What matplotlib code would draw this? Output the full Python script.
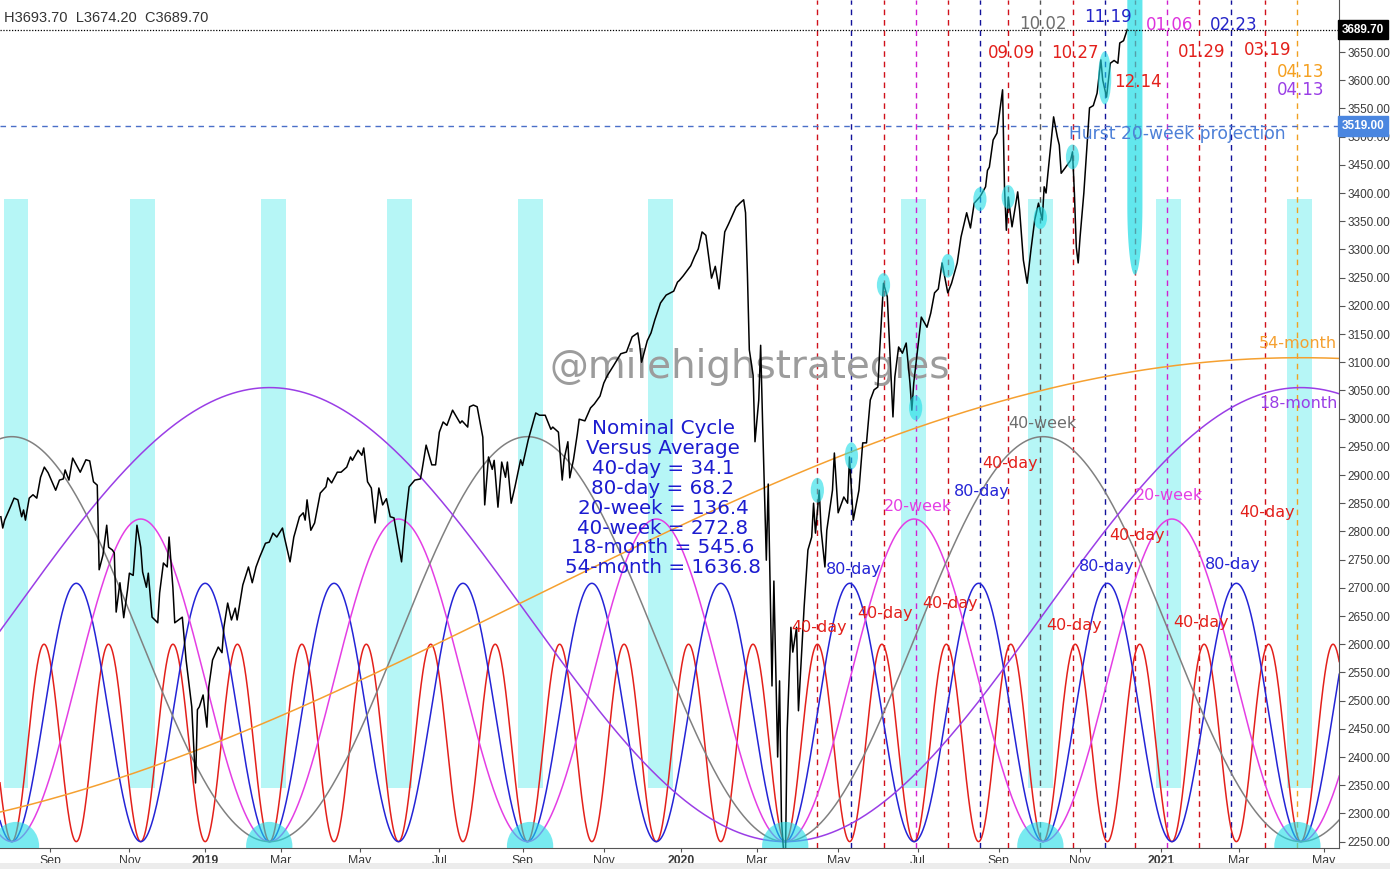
import numpy as np
import pandas as pd
import matplotlib
matplotlib.use('Agg')
import matplotlib.pyplot as plt
from matplotlib.patches import Rectangle, Ellipse, Polygon

# x axis counts trading sessions (bar index), session 0 = 2018-09-04
START = '2018-09-04'
HOLIDAYS = ['2018-09-03', '2018-11-22', '2018-12-05', '2018-12-25',
            '2019-01-01', '2019-01-21', '2019-02-18', '2019-04-19', '2019-05-27',
            '2019-07-04', '2019-09-02', '2019-11-28', '2019-12-25',
            '2020-01-01', '2020-01-20', '2020-02-17', '2020-04-10', '2020-05-25',
            '2020-07-03', '2020-09-07', '2020-11-26']

# daily close (session, price)
price_bar = [-26, -25, -24, -21, -19, -17, -15, -14, -13, -11,
             -9, -7, -5, -3, -1, 3, 5, 7, 8, 10,
             12, 16, 19, 21, 23, 25, 26, 28, 30, 31,
             33, 34, 35, 37, 39, 41, 42, 44, 46, 48,
             49, 51, 52, 54, 57, 58, 60, 62, 63, 65,
             66, 70, 72, 75, 77, 78, 79, 81, 83, 84,
             86, 89, 91, 92, 94, 96, 98, 99, 102, 105,
             107, 109, 111, 114, 116, 118, 120, 123, 124, 127,
             129, 132, 134, 135, 136, 138, 140, 143, 146, 147,
             149, 152, 154, 157, 159, 160, 163, 165, 166, 168,
             170, 172, 174, 176, 178, 180, 182, 184, 186, 188,
             190, 193, 196, 197, 199, 202, 204, 206, 208, 210,
             213, 217, 218, 221, 222, 224, 226, 229, 230, 232,
             234, 235, 237, 239, 241, 242, 244, 246, 249, 250,
             253, 257, 259, 262, 265, 266, 269, 271, 272, 274,
             275, 277, 279, 280, 283, 286, 288, 291, 293, 295,
             298, 302, 305, 308, 311, 312, 313, 316, 318, 320,
             323, 326, 330, 332, 333, 335, 339, 341, 343, 345,
             347, 350, 352, 354, 357, 359, 361, 363, 365, 367,
             368, 369, 370, 372, 373, 375, 376, 377, 379, 380,
             382, 383, 385, 386, 387, 389, 390, 392, 393, 395,
             396, 399, 401, 403, 404, 405, 407, 408, 410, 411,
             414, 415, 417, 420, 422, 423, 425, 428, 430, 432,
             434, 436, 438, 439, 441, 443, 446, 447, 449, 451,
             453, 455, 456, 457, 459, 461, 464, 466, 468, 470,
             472, 475, 477, 480, 482, 485, 487, 489, 492, 495,
             496, 497, 499, 501, 504, 505, 506, 507, 509, 512,
             513, 515, 517, 519, 521, 523, 525, 526, 527, 528,
             531, 533, 534, 535, 537, 540, 541, 542, 543, 544,
             545, 547, 549, 550, 552, 554, 556, 557, 559, 561,
             563, 565, 566, 568, 570]
price_close = [2826, 2806, 2820, 2843, 2859, 2856, 2826, 2838, 2820, 2859,
               2865, 2859, 2896, 2914, 2904, 2873, 2891, 2893, 2909, 2891,
               2930, 2905, 2927, 2925, 2888, 2882, 2732, 2758, 2811, 2772,
               2767, 2762, 2657, 2709, 2647, 2696, 2726, 2722, 2811, 2772,
               2728, 2701, 2726, 2648, 2638, 2691, 2744, 2737, 2790, 2701,
               2638, 2648, 2572, 2489, 2354, 2484, 2489, 2510, 2453, 2524,
               2572, 2595, 2585, 2630, 2673, 2643, 2664, 2643, 2705, 2737,
               2709, 2737, 2755, 2779, 2781, 2797, 2790, 2806, 2790, 2746,
               2790, 2826, 2833, 2820, 2856, 2802, 2815, 2868, 2879, 2895,
               2886, 2905, 2905, 2914, 2932, 2926, 2944, 2935, 2948, 2888,
               2877, 2815, 2877, 2847, 2858, 2826, 2824, 2785, 2746, 2820,
               2879, 2891, 2893, 2912, 2953, 2918, 2918, 2976, 2994, 2988,
               3015, 2992, 2996, 2985, 3021, 3024, 3021, 2967, 2847, 2932,
               2910, 2926, 2843, 2923, 2896, 2923, 2850, 2879, 2927, 2917,
               2962, 3010, 3006, 3006, 2981, 2985, 2976, 2891, 2928, 2959,
               2895, 2928, 2973, 2999, 2996, 3019, 3026, 3040, 3063, 3077,
               3093, 3115, 3118, 3145, 3152, 3130, 3100, 3138, 3152, 3175,
               3205, 3219, 3226, 3242, 3245, 3253, 3271, 3287, 3301, 3331,
               3325, 3249, 3270, 3230, 3331, 3345, 3360, 3375, 3382, 3388,
               3365, 3256, 3122, 3077, 2959, 3033, 3130, 2996, 2749, 2884,
               2526, 2712, 2400, 2535, 2288, 2190, 2445, 2630, 2586, 2630,
               2482, 2666, 2767, 2790, 2850, 2797, 2873, 2802, 2737, 2802,
               2873, 2939, 2833, 2861, 2850, 2932, 2820, 2873, 2957, 2957,
               3033, 3051, 3056, 3122, 3240, 3216, 3003, 3074, 3127, 3116,
               3134, 3063, 3015, 3063, 3122, 3180, 3162, 3187, 3223, 3230,
               3276, 3223, 3240, 3276, 3322, 3365, 3338, 3382, 3393, 3411,
               3440, 3446, 3494, 3506, 3583, 3411, 3334, 3393, 3340, 3402,
               3370, 3281, 3240, 3299, 3352, 3382, 3352, 3411, 3400, 3435,
               3535, 3499, 3485, 3435, 3444, 3458, 3473, 3400, 3304, 3276,
               3322, 3400, 3499, 3551, 3555, 3577, 3636, 3600, 3570, 3630,
               3635, 3630, 3666, 3670, 3690]

# Hurst nominal cycles (length in bars, peak price), all trough at 2250
cycle_names = ['40-day', '80-day', '20-week', '40-week', '18-month', '54-month']
cycle_len = [34.1, 68.2, 136.4, 272.8, 545.6, 1636.8]
cycle_peak = [2600, 2708, 2822, 2968, 3055, 3108]
cycle_shift = [0, 0, 0, 0, 0, -545.6]
cycle_colors = ['#e3201b', '#2424d6', '#e43ee4', '#808080', '#9a3ee6', '#f5a030']
cycle_trough_date = '2020-03-23'
cycle_base = 2250

# projected cycle dates (dashed verticals)
vline_dates = ['2020-04-16', '2020-05-12', '2020-06-05', '2020-06-30', '2020-07-24',
               '2020-08-18', '2020-09-09', '2020-10-02', '2020-10-27', '2020-11-19',
               '2020-12-14', '2021-01-06', '2021-01-29', '2021-02-23', '2021-03-19',
               '2021-04-13']
vline_cycle = ['40-day', '80-day', '40-day', '20-week', '40-day',
               '80-day', '40-day', '40-week', '40-day', '80-day',
               '40-day', '20-week', '40-day', '80-day', '40-day',
               '54-month']
vline_label_y = [2630, 2732, 2654, 2845, 2673, 2870, 2921, 2992, 2634, 2737,
                 2792, 2863, 2638, 2742, 2833, None]

# dates written at the top
top_dates = ['2020-09-09', '2020-10-02', '2020-10-27', '2020-11-19', '2020-12-14',
             '2021-01-06', '2021-01-29', '2021-02-23', '2021-03-19', '2021-04-13',
             '2021-04-13']
top_text = ['09.09', '10.02', '10.27', '11.19', '12.14', '01.06', '01.29', '02.23',
            '03.19', '04.13', '04.13']
top_y = [3648, 3700, 3648, 3712, 3597, 3698, 3650, 3698, 3654, 3615, 3583]
top_colors = ['#e3201b', '#6e6e6e', '#e3201b', '#2424c8', '#e3201b', '#dd33dd',
              '#e3201b', '#2424c8', '#e3201b', '#f5a020', '#9a3ee6']

# cyan highlight bars (80-day troughs)
band_dates = ['2018-08-08', '2018-11-12', '2019-02-25', '2019-05-31', '2019-09-09',
              '2019-12-16', '2020-06-29', '2020-10-02', '2021-01-07', '2021-04-14']
band_low, band_high = 2345, 3390

# big circles on the 20-week troughs
circle_dates = ['2018-08-08', '2019-02-21', '2019-09-09', '2020-03-23', '2020-10-02',
                '2021-04-13']

# small ellipses on price turns
turn_dates = ['2020-04-16', '2020-05-12', '2020-06-05', '2020-06-30', '2020-07-24',
              '2020-08-18', '2020-09-09', '2020-10-02', '2020-10-27', '2020-11-19']
turn_price = [2873, 2934, 3237, 3019, 3271, 3389, 3393, 3356, 3464, 3604]
turn_height = [44, 48, 42, 44, 42, 42, 42, 40, 44, 94]

nominal_lines = ['Nominal Cycle', 'Versus Average', '40-day = 34.1', '80-day = 68.2',
                 '20-week = 136.4', '40-week = 272.8', '18-month = 545.6',
                 '54-month = 1636.8']

last_price = 3689.70
projection_price = 3519.00


def session(d):
    return float(np.busday_count(START, d, holidays=HOLIDAYS))


fig = plt.figure(figsize=(13.9, 8.69), dpi=100)
fig.patch.set_facecolor('white')
ax = fig.add_axes([0, 21 / 869, 1339 / 1390, 848 / 869])
ax.set_xlim(-26.46, 682.0)
ax.set_ylim(2238.7, 3742.2)

# cyan bands
for d in band_dates:
    c = session(d)
    ax.add_patch(Rectangle((c - 6.6, band_low), 13.2, band_high - band_low,
                           fc='#b6f6f6', ec='none', zorder=0.5))

# dashed verticals
name_color = dict(zip(cycle_names, cycle_colors))
vcolors = {'40-day': '#d0101a', '80-day': '#12129a', '20-week': '#d020d0',
           '40-week': '#555555', '54-month': '#f0a020'}
for d, cyc in zip(vline_dates, vline_cycle):
    ax.axvline(session(d), color=vcolors[cyc], lw=1.0, ls=(0, (4, 3.5)), zorder=1.5)

# cycle curves
xs = np.linspace(-27, 683, 4000)
t0 = session(cycle_trough_date)
for per, pk, sh, col in zip(cycle_len, cycle_peak, cycle_shift, cycle_colors):
    yy = cycle_base + (pk - cycle_base) * (1 - np.cos(2 * np.pi * (xs - t0 - sh) / per)) / 2
    ax.plot(xs, yy, color=col, lw=1.1, zorder=2)

# watermark
ax.text(370.4, 3092, '@milehighstrategies', fontsize=28, color='#9c9c9c',
        ha='center', va='center', zorder=1.8)

# price
ax.plot(price_bar, price_close, color='black', lw=1.1, zorder=3)

# highlight circles / ellipses
for d in circle_dates:
    ax.add_patch(Ellipse((session(d), 2242), 24.5, 86, fc='#1fdde6', ec='none',
                         alpha=0.6, zorder=4))
for d, p, h in zip(turn_dates, turn_price, turn_height):
    ax.add_patch(Ellipse((session(d), p), 7.0, h, fc='#1fdde6', ec='none',
                         alpha=0.6, zorder=4))

# Hurst 20-week projection shape
c = session('2020-12-14')
th = np.linspace(np.pi, 2 * np.pi, 40)
pts = [(c - 4.0, 3800)] + list(zip(c + 4.0 * np.cos(th), 3377 + 122 * np.sin(th))) + [(c + 4.0, 3800)]
ax.add_patch(Polygon(pts, closed=True, fc='#1fdde6', ec='none', alpha=0.7, zorder=4))

# horizontal lines
ax.axhline(last_price, color='black', lw=0.9, ls=(0, (1, 1.3)), zorder=5)
ax.axhline(projection_price, color='#4a6fc8', lw=1.0, ls=(0, (4, 3.5)), zorder=1.5)
ax.text(596.3, 3504.6, 'Hurst 20-week projection', fontsize=12.3, color='#4d80d8',
        ha='center', va='center', zorder=6)

# cycle labels on the verticals
for d, cyc, ly in zip(vline_dates, vline_cycle, vline_label_y):
    if ly is None:
        continue
    lc = name_color[cyc]
    if cyc == '40-week':
        lc = '#6e6e6e'
    ax.text(session(d) + 1.0, ly, cyc, fontsize=11.5, color=lc, ha='center',
            va='center', zorder=6)
ax.text(session('2021-04-13') + 0.3, 3134, '54-month', fontsize=11.5, color='#f5a030',
        ha='center', va='center', zorder=6)
ax.text(session('2021-04-13') + 0.3, 3026, '18-month', fontsize=11.5, color='#9a3ee6',
        ha='center', va='center', zorder=6)

# top date labels
for d, t, yv, col in zip(top_dates, top_text, top_y, top_colors):
    ax.text(session(d) + 1.5, yv, t, fontsize=12, color=col, ha='center',
            va='center', zorder=6)

# nominal cycle box
ny = 2983
for line in nominal_lines:
    ax.text(324.3, ny, line, fontsize=14.3, color='#1c1cd0', ha='center',
            va='center', zorder=6)
    ny -= 35.4

# axes styling
for s in ['top', 'left']:
    ax.spines[s].set_visible(False)
ax.spines['right'].set_color('#555555')
ax.spines['bottom'].set_color('#555555')
ax.yaxis.tick_right()
yt = np.arange(2250, 3651, 50)
ax.set_yticks(yt)
ax.set_yticklabels(['%.2f' % v for v in yt])
ax.tick_params(axis='y', length=4, width=0.8, colors='#555555', labelsize=8.5,
               labelcolor='#3a3a3a', pad=2)
for lab in ax.get_yticklabels():
    lab.set_family('Liberation Sans')

months = pd.date_range('2018-09-01', '2021-05-01', freq='2MS')
tick_pos = [session(np.busday_offset(m.strftime('%Y-%m-%d'), 0, roll='forward',
                                     holidays=HOLIDAYS)) for m in months]
tick_lab = [str(m.year) if m.month == 1 else m.strftime('%b') for m in months]
ax.set_xticks(tick_pos)
ax.set_xticklabels(tick_lab)
ax.tick_params(axis='x', length=3, width=0.8, colors='#555555', labelsize=8.8,
               labelcolor='#3a3a3a', pad=2)
for lab in ax.get_xticklabels():
    lab.set_family('Liberation Sans')
    if lab.get_text().isdigit():
        lab.set_fontweight('bold')

# price boxes on the right scale
ytr = ax.get_yaxis_transform()
ax.text(1.002, last_price, '3689.70', transform=ytr, ha='left', va='center',
        color='white', fontsize=8.5, fontweight='bold', family='Liberation Sans',
        bbox=dict(boxstyle='square,pad=0.32', fc='black', ec='black'),
        zorder=10, clip_on=False)
ax.text(1.002, projection_price, '3519.00', transform=ytr, ha='left', va='center',
        color='white', fontsize=8.5, fontweight='bold', family='Liberation Sans',
        bbox=dict(boxstyle='square,pad=0.32', fc='#4a86e0', ec='#4a86e0'),
        zorder=10, clip_on=False)

fig.text(4 / 1390, 1 - 18 / 869, 'H3693.70  L3674.20  C3689.70', fontsize=10.5,
         family='Liberation Sans', color='#333333', va='center', ha='left')
fig.patches.append(Rectangle((0, 0), 1, 6 / 869, transform=fig.transFigure,
                             fc='#ececec', ec='none'))

fig.savefig('out.png', dpi=100, facecolor='white')
